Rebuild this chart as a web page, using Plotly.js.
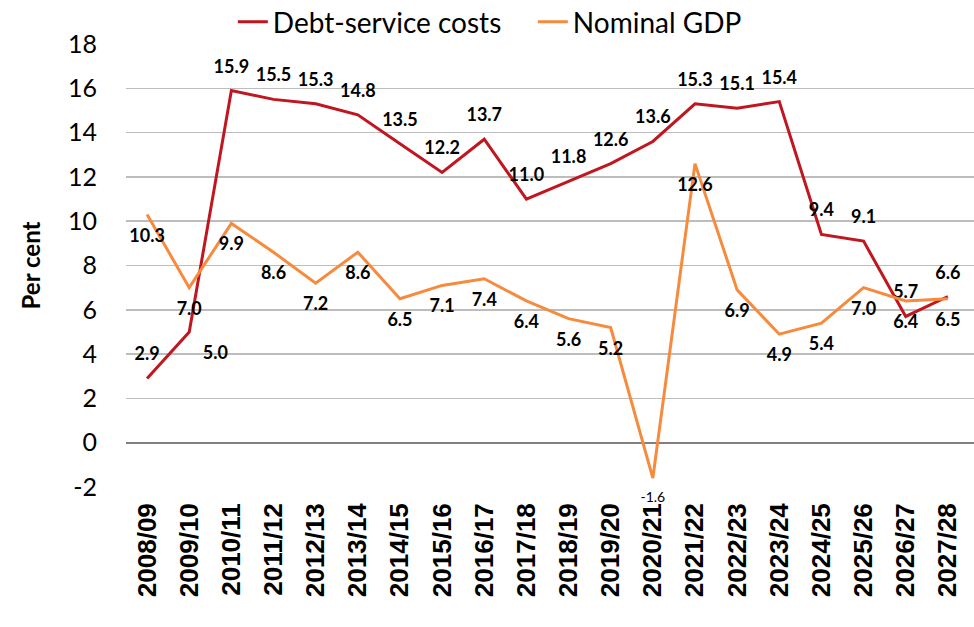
<!DOCTYPE html>
<html>
<head>
<meta charset="utf-8">
<script src="https://cdn.plot.ly/plotly-3.0.1.min.js"></script>
<style>html,body{margin:0;padding:0;background:#fff;}#chart{width:974px;height:627px;}</style>
</head>
<body>
<div id="chart"></div>
<script>
const years = ["2008/09","2009/10","2010/11","2011/12","2012/13","2013/14","2014/15","2015/16","2016/17","2017/18","2018/19","2019/20","2020/21","2021/22","2022/23","2023/24","2024/25","2025/26","2026/27","2027/28"];
const debtService = [2.9, 5.0, 15.9, 15.5, 15.3, 14.8, 13.5, 12.2, 13.7, 11.0, 11.8, 12.6, 13.6, 15.3, 15.1, 15.4, 9.4, 9.1, 5.7, 6.6];
const nominalGDP = [10.3, 7.0, 9.9, 8.6, 7.2, 8.6, 6.5, 7.1, 7.4, 6.4, 5.6, 5.2, -1.6, 12.6, 6.9, 4.9, 5.4, 7.0, 6.4, 6.5];
const seriesNames = ["Debt-service costs", "Nominal GDP"];
const yTickVals = [-2, 0, 2, 4, 6, 8, 10, 12, 14, 16, 18];
const yTickText = ["-2", "0", "2", "4", "6", "8", "10", "12", "14", "16", "18"];

const fmt = v => v.toFixed(1);
const debtPos = debtService.map((v, i) => i === 1 ? "bottom right" : "top center");
const gdpSize = nominalGDP.map(v => v < 0 ? 14 : 18);
const gdpWeight = nominalGDP.map(v => v < 0 ? 400 : 700);

const clearMarker = {size: 20, color: "rgba(0,0,0,0)", line: {width: 0}};

const traces = [
  {
    x: years, y: debtService, name: seriesNames[0], type: "scatter", mode: "lines+markers+text",
    line: {color: "#c0161f", width: 3},
    marker: clearMarker,
    text: debtService.map(fmt), textposition: debtPos,
    textfont: {family: "Lato, sans-serif", size: 18, weight: 700, color: "#000"},
    cliponaxis: false, hoverinfo: "skip"
  },
  {
    x: years, y: nominalGDP, name: seriesNames[1], type: "scatter", mode: "lines+markers+text",
    line: {color: "#f68b3d", width: 3},
    marker: clearMarker,
    text: nominalGDP.map(fmt), textposition: "bottom center",
    textfont: {family: "Lato, sans-serif", size: gdpSize, weight: gdpWeight, color: "#000"},
    cliponaxis: false, hoverinfo: "skip"
  }
];

const layout = {
  width: 974, height: 627,
  margin: {l: 126, r: 0, t: 44, b: 140, autoexpand: false},
  paper_bgcolor: "#fff", plot_bgcolor: "#fff",
  showlegend: true,
  legend: {
    orientation: "h", xref: "paper", yref: "paper", x: 0.126, xanchor: "left",
    y: 1.106, yanchor: "top", font: {family: "Lato, sans-serif", size: 28, color: "#000"},
    itemwidth: 30, entrywidth: 255, bgcolor: "rgba(0,0,0,0)"
  },
  xaxis: {
    type: "category", range: [-0.5, 19.62], tickangle: -90,
    tickfont: {family: "Liberation Sans, Arial, sans-serif", size: 26, weight: 700, color: "#000"},
    showgrid: false, zeroline: false, showline: false, ticks: "", fixedrange: true,
    ticklabelstandoff: 10, automargin: false
  },
  yaxis: {
    range: [-2, 18], tickmode: "array", tickvals: yTickVals, ticktext: yTickText,
    tickfont: {family: "Lato, sans-serif", size: 25, color: "#000"},
    showgrid: true, gridcolor: "#bdbdbd", gridwidth: 1.5,
    zeroline: true, zerolinecolor: "#808080", zerolinewidth: 2,
    showline: false, ticks: "", ticklabelstandoff: 28, automargin: false,
    title: {text: "Per cent", font: {family: "Lato, sans-serif", size: 24, weight: 700, color: "#000"}, standoff: 20}
  }
};

Plotly.newPlot("chart", traces, layout, {displayModeBar: false, staticPlot: true});
</script>
</body>
</html>
